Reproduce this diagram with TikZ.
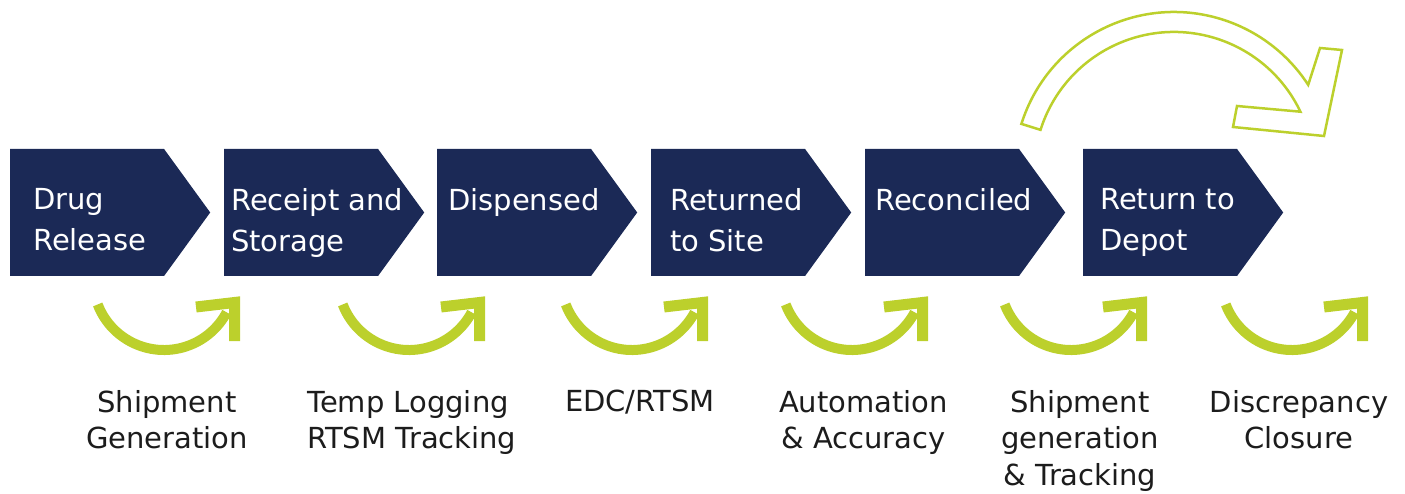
\documentclass[tikz,border=0pt]{standalone}
\usepackage{fontspec}
\setmainfont{DejaVu Sans}
\usetikzlibrary{shapes.symbols}
\definecolor{navy}{RGB}{27, 41, 86}
\definecolor{lime}{RGB}{188, 208, 44}
\definecolor{ink}{RGB}{28, 28, 28}

\begin{document}
\begin{tikzpicture}[x=1pt, y=1pt,
    stepbox/.style={signal, signal to=east, signal pointer angle=108, fill=navy,
                    minimum width=200pt, minimum height=127pt, inner sep=0pt, anchor=west},
    steptext/.style={anchor=north west, inner sep=0pt, text=white, align=left,
                     font=\fontsize{29}{41}\selectfont},
    tasktext/.style={anchor=north, inner sep=0pt, text=ink, align=center,
                     font=\fontsize{29}{36.5}\selectfont}]
  \useasboundingbox (0,0) rectangle (1405,493);

  % steps
  \node[stepbox] (release)   at (10,280.5)   {};
  \node[stepbox] (receipt)   at (224,280.5)  {};
  \node[stepbox] (dispensed) at (437,280.5)  {};
  \node[stepbox] (returned)  at (651,280.5)  {};
  \node[stepbox] (reconciled) at (865,280.5) {};
  \node[stepbox] (depot)     at (1083,280.5) {};

  \node[steptext] (releasetext)    at ([shift={(23,24.5)}]release.west)    {Drug\\Release};
  \node[steptext] (receipttext)    at ([shift={(7,24.5)}]receipt.west)     {Receipt and\\Storage};
  \node[steptext] (dispensedtext)  at ([shift={(11,24.5)}]dispensed.west)  {Dispensed};
  \node[steptext] (returnedtext)   at ([shift={(19,24.5)}]returned.west)   {Returned\\to Site};
  \node[steptext] (reconciledtext) at ([shift={(10,24.5)}]reconciled.west) {Reconciled};
  \node[steptext] (depottext)      at ([shift={(17,24.5)}]depot.west)      {Return to\\Depot};

  % small arrows under the steps
  \foreach \tip in {240,485,708,928,1147,1368}{
    \draw[lime, line width=10pt] (\tip-76,214) ++(201:71) arc[start angle=201, end angle=332, radius=71];
    \draw[lime, line width=11pt, line join=miter] (\tip-44,186) -- (\tip-5.5,190.5) -- (\tip-5.5,152);
  }

  % big arrow over the last step
  \filldraw[draw=lime, fill=white, line width=2.5pt, line join=miter]
    (1174,321) ++(162.5:160) arc[start angle=162.5, end angle=33, radius=160]
    -- (1320,445) -- (1342,443) -- (1324,357) -- (1233,366) -- (1237,387) -- (1300.4,381.3)
    arc[start angle=25.5, end angle=162.5, radius=140] -- cycle;

  % tasks
  \node[tasktext] (shipment)    at (167,103)   {Shipment\\Generation};
  \node[tasktext, anchor=north west, align=left] (templog) at (307,103) {Temp Logging\\RTSM Tracking};
  \node[tasktext] (edc)         at (640,103)   {EDC/RTSM};
  \node[tasktext] (automation)  at (863.5,103) {Automation\\\& Accuracy};
  \node[tasktext] (shipgen)     at (1080,103)  {Shipment\\generation\\\& Tracking};
  \node[tasktext] (discrepancy) at (1299,103)  {Discrepancy\\Closure};
\end{tikzpicture}
\end{document}
